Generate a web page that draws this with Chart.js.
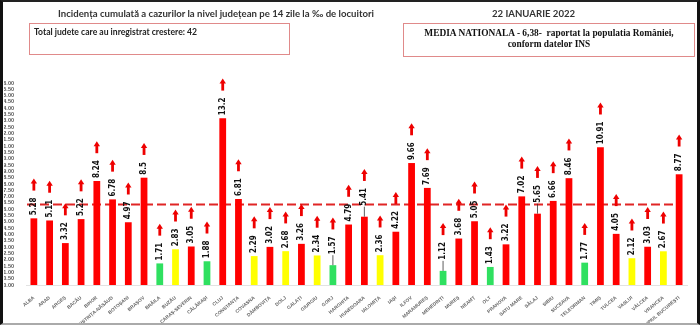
<!DOCTYPE html>
<html>
<head>
<meta charset="utf-8">
<script src="https://cdn.jsdelivr.net/npm/chart.js@4.4.1/dist/chart.umd.min.js"></script>
<style>
  html, body { margin: 0; padding: 0; background: #fff; }
  #wrap { position: relative; width: 700px; height: 325px; overflow: hidden; background: #fff; }
  #chart { position: absolute; left: 0; top: 0; }
  #frame { position: absolute; left: 0; top: 0; width: 700px; height: 325px; box-sizing: border-box;
           border-left: 3px solid #111; border-right: 3px solid #111; border-top: 2px solid #222; border-bottom: 2px solid #aaa; pointer-events: none; }
  .txt { position: absolute; white-space: nowrap; color: #333; font-family: Lato, "Open Sans", sans-serif; font-weight: bold; }
  #title { left: 58px; top: 8px; font-size: 9.6px; }
  #date { left: 492px; top: 8px; font-size: 9.6px; }
  .box { position: absolute; border: 1.5px solid #e08a8a; box-sizing: border-box; }
  #box1 { left: 29px; top: 23px; width: 261px; height: 32px; }
  #box1 span { position: absolute; left: 4px; top: 3px; font-size: 8.6px; color: #222; }
  #box2 { left: 403px; top: 23px; width: 292px; height: 34px; text-align: center;
          font-family: "Liberation Serif", "DejaVu Serif", serif; font-weight: bold; font-size: 9.4px; line-height: 11px; color: #111; padding-top: 4px; }
</style>
</head>
<body>
<div id="wrap">
  <canvas id="chart" width="700" height="325"></canvas>
  <div class="txt" id="title">Incidența cumulată a cazurilor la nivel județean pe 14 zile la ‰ de locuitori</div>
  <div class="txt" id="date">22 IANUARIE 2022</div>
  <div class="box" id="box1"><span class="txt">Total judete care au inregistrat crestere: 42</span></div>
  <div class="box" id="box2">MEDIA NATIONALA - 6,38-&nbsp; raportat la populatia României,<br>conform datelor INS</div>
  <div id="frame"></div>
</div>
<script>
// judete
const judete = ['ALBA', 'ARAD', 'ARGEȘ', 'BACĂU', 'BIHOR', 'BISTRIȚA-NĂSĂUD', 'BOTOȘANI', 'BRAȘOV',
  'BRĂILA', 'BUZĂU', 'CARAȘ-SEVERIN', 'CĂLĂRAȘI', 'CLUJ', 'CONSTANȚA', 'COVASNA', 'DÂMBOVIȚA',
  'DOLJ', 'GALAȚI', 'GIURGIU', 'GORJ', 'HARGHITA', 'HUNEDOARA', 'IALOMIȚA', 'IAȘI', 'ILFOV',
  'MARAMUREȘ', 'MEHEDINȚI', 'MUREȘ', 'NEAMȚ', 'OLT', 'PRAHOVA', 'SATU MARE', 'SĂLAJ', 'SIBIU',
  'SUCEAVA', 'TELEORMAN', 'TIMIȘ', 'TULCEA', 'VASLUI', 'VÂLCEA', 'VRANCEA', 'MUNICIPIUL BUCUREȘTI'];

// incidenta la mie locuitori
const incidenta = [5.28, 5.11, 3.32, 5.22, 8.24, 6.78, 4.97, 8.5,
  1.71, 2.83, 3.05, 1.88, 13.2, 6.81, 2.29, 3.02,
  2.68, 3.26, 2.34, 1.57, 4.79, 5.41, 2.36, 4.22, 9.66,
  7.69, 1.12, 3.68, 5.05, 1.43, 3.22, 7.02, 5.65, 6.66,
  8.46, 1.77, 10.91, 4.05, 2.12, 3.03, 2.67, 8.77];

// etichete cu linie de legatura
const cuLinie = ['GORJ', 'HUNEDOARA', 'MEHEDINȚI', 'SĂLAJ'];

const mediaNationala = 6.38;

// kleur per waarde: <2 groen, 2-3 geel, rest rood
function culoare(v) {
  if (v < 2) return '#2fe060';
  if (v < 3) return '#ffff00';
  return '#ff0000';
}

// dashed line for the national average
const mediaPlugin = {
  id: 'media',
  beforeDatasetsDraw(chart) {
    const { ctx, chartArea, scales } = chart;
    const y = scales.y.getPixelForValue(mediaNationala);
    const xEnd = scales.x.getPixelForValue(judete.length - 1) - 3;
    ctx.save();
    ctx.strokeStyle = '#e02525';
    ctx.lineWidth = 2;
    ctx.setLineDash([9, 4]);
    ctx.beginPath();
    ctx.moveTo(chartArea.left + 1, y);
    ctx.lineTo(xEnd, y);
    ctx.stroke();
    ctx.restore();
  }
};

// vertical value labels + red arrows above every bar
const labelPlugin = {
  id: 'valori',
  afterDatasetsDraw(chart) {
    const ctx = chart.ctx;
    const meta = chart.getDatasetMeta(0);
    ctx.save();
    ctx.font = 'bold 8px "Liberation Sans Narrow", "DejaVu Sans Condensed", sans-serif';
    meta.data.forEach((bar, i) => {
      const txt = String(incidenta[i]);
      const w = ctx.measureText(txt).width;
      const lift = cuLinie.includes(judete[i]) ? 8 : 0;
      const y0 = bar.y - 3 - lift;
      if (lift) {
        ctx.strokeStyle = '#333';
        ctx.lineWidth = 0.8;
        ctx.beginPath();
        ctx.moveTo(bar.x, bar.y);
        ctx.lineTo(bar.x, y0 + 1);
        ctx.stroke();
      }
      ctx.save();
      ctx.translate(bar.x, y0);
      ctx.rotate(-Math.PI / 2);
      ctx.fillStyle = '#111';
      ctx.textAlign = 'left';
      ctx.textBaseline = 'middle';
      ctx.fillText(txt, 0, 0);
      ctx.restore();

      // sageata
      const ab = y0 - w - 7;
      ctx.fillStyle = '#ee0000';
      ctx.fillRect(bar.x - 1.4, ab - 8, 2.8, 8);
      ctx.beginPath();
      ctx.moveTo(bar.x - 3.2, ab - 7);
      ctx.lineTo(bar.x, ab - 12);
      ctx.lineTo(bar.x + 3.2, ab - 7);
      ctx.closePath();
      ctx.fill();
    });
    ctx.restore();
  }
};

new Chart(document.getElementById('chart'), {
  type: 'bar',
  data: {
    labels: judete,
    datasets: [{
      data: incidenta,
      backgroundColor: incidenta.map(culoare),
      borderWidth: 0,
      barPercentage: 0.43,
      categoryPercentage: 1
    }]
  },
  options: {
    responsive: false,
    animation: false,
    events: [],
    layout: { padding: { left: 4, right: 13, top: 83, bottom: 2 } },
    plugins: {
      legend: { display: false },
      tooltip: { enabled: false }
    },
    scales: {
      x: {
        grid: { display: false },
        border: { color: '#e2e2e2' },
        afterFit: s => { s.height = 38; },
        ticks: {
          autoSkip: false,
          minRotation: 40,
          maxRotation: 40,
          padding: 2,
          color: '#666',
          font: { size: 4.8, weight: 'bold', family: 'Liberation Sans, Arial, sans-serif' }
        }
      },
      y: {
        min: 0,
        max: 16,
        grid: { display: false },
        border: { display: false },
        afterFit: s => { s.width = 22; },
        ticks: {
          stepSize: 0.5,
          autoSkip: false,
          padding: 4,
          color: '#555',
          font: { size: 5.5, weight: 'bold', family: 'Liberation Sans, Arial, sans-serif' },
          callback: v => v.toFixed(2)
        }
      }
    }
  },
  plugins: [mediaPlugin, labelPlugin]
});
</script>
</body>
</html>
